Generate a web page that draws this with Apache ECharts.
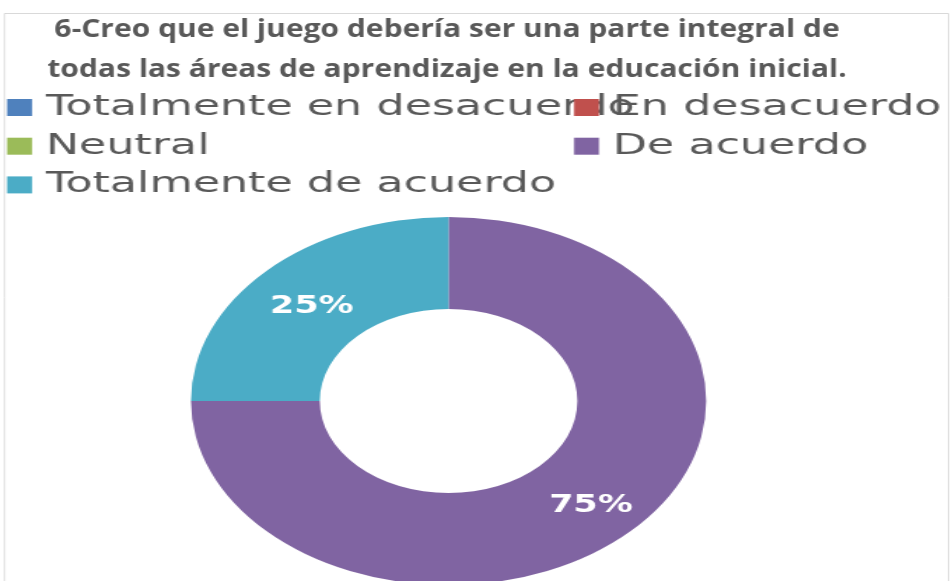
<!DOCTYPE html>
<html>
<head>
<meta charset="utf-8">
<script src="https://cdn.jsdelivr.net/npm/echarts@6/dist/echarts.min.js"></script>
<style>
  html, body { margin: 0; padding: 0; background: #ffffff; }
  #wrap { position: relative; width: 951px; height: 581px; overflow: hidden; background: #fff; }
  #titleChart { position: absolute; left: 0; top: 0; width: 792.5px; height: 581px;
                transform: scaleX(1.2); transform-origin: 0 0; }
  #legendChart { position: absolute; left: 0; top: 0; width: 621.6px; height: 230px;
                 transform: scaleX(1.53); transform-origin: 0 0; }
  #pieChart { position: absolute; left: 0; top: 0; width: 679.3px; height: 581px;
              transform: scaleX(1.4); transform-origin: 0 0; }
</style>
</head>
<body>
<div id="wrap">
  <div id="titleChart"></div>
  <div id="pieChart"></div>
  <div id="legendChart"></div>
</div>
<script>
// ---- data ----
const titleLines = [
  '6-Creo que el juego debería ser una parte integral de',
  'todas las áreas de aprendizaje en la educación inicial.'
];
const categories = [
  'Totalmente en desacuerdo',
  'En desacuerdo',
  'Neutral',
  'De acuerdo',
  'Totalmente de acuerdo'
];
const percentValues = [0, 0, 0, 75, 25];
const sliceColors = ['#4F81BD', '#C0504D', '#9BBB59', '#8064A2', '#4BACC6'];

const pieData = categories.map((name, i) => ({ name: name, value: percentValues[i] }));

// ---- title chart (stretched 1.2) ----
const tChart = echarts.init(document.getElementById('titleChart'), null, { renderer: 'canvas' });
tChart.setOption({
  backgroundColor: 'transparent',
  animation: false,
  title: {
    text: titleLines.join('\n'),
    left: 372.5,
    top: 10,
    textAlign: 'center',
    padding: 0,
    textStyle: {
      fontFamily: 'Open Sans',
      fontWeight: 'bold',
      fontSize: 25,
      lineHeight: 40,
      color: '#595959'
    }
  },
  graphic: [{
    type: 'rect',
    shape: { x: 3.75, y: 13.5, width: 786.7, height: 620 },
    style: { fill: 'none', stroke: '#d9d9d9', lineWidth: 1 },
    z: -10
  }]
});

// ---- legend chart (stretched 1.53) ----
const lChart = echarts.init(document.getElementById('legendChart'), null, { renderer: 'canvas' });
const legendText = {
  fontFamily: 'DejaVu Sans',
  fontSize: 29,
  lineHeight: 29,
  color: '#595959',
  padding: [0, 0, 0, 4]
};
const legendCommon = {
  orient: 'vertical',
  top: 93,
  padding: 0,
  itemWidth: 16.3, itemHeight: 17,
  itemGap: 9.7,
  icon: 'rect',
  selectedMode: false,
  textStyle: legendText
};
lChart.setOption({
  backgroundColor: 'transparent',
  animation: false,
  color: sliceColors,
  legend: [
    Object.assign({}, legendCommon, { data: [categories[0], categories[2], categories[4]], left: 4.6 }),
    Object.assign({}, legendCommon, { data: [categories[1], categories[3]], left: 375.2 })
  ],
  series: [{
    type: 'pie',
    radius: [0, 0],
    silent: true,
    label: { show: false },
    labelLine: { show: false },
    data: pieData
  }]
});

// ---- pie chart (stretched 1.4) ----
const pChart = echarts.init(document.getElementById('pieChart'), null, { renderer: 'canvas' });
pChart.setOption({
  backgroundColor: 'transparent',
  animation: false,
  color: sliceColors,
  series: [{
    type: 'pie',
    center: [320.4, 401],
    radius: [92, 184],
    startAngle: 90,
    clockwise: true,
    avoidLabelOverlap: false,
    silent: true,
    itemStyle: { borderWidth: 0 },
    label: {
      show: true,
      position: 'inside',
      offset: [2, 5],
      color: '#ffffff',
      fontFamily: 'DejaVu Sans',
      fontWeight: 'bold',
      fontSize: 25,
      formatter: p => (p.value > 0 ? p.value + '%' : '')
    },
    labelLine: { show: false },
    data: pieData
  }]
});
</script>
</body>
</html>
